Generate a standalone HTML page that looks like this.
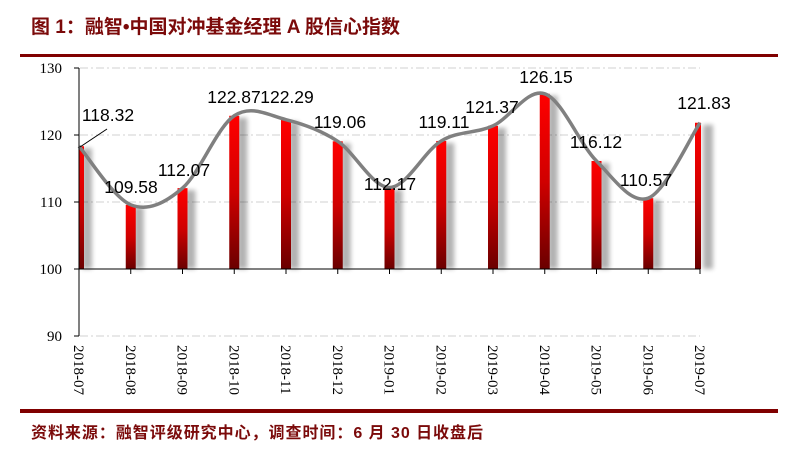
<!DOCTYPE html>
<html><head><meta charset="utf-8"><style>
body{margin:0;background:#fff;width:799px;height:459px;overflow:hidden}
svg{display:block}
</style></head><body>
<svg id="s" width="799" height="459" xmlns="http://www.w3.org/2000/svg">
<defs>
<linearGradient id="g" x1="0" y1="0" x2="0" y2="1"><stop offset="0" stop-color="#ff0000"/><stop offset="0.5" stop-color="#d00000"/><stop offset="1" stop-color="#6a0000"/></linearGradient>
<filter id="sh" x="-50%" y="-10%" width="250%" height="120%"><feGaussianBlur stdDeviation="2.5"/></filter>
</defs>
<text x="31" y="33" font-family="Liberation Sans, Noto Sans CJK SC, sans-serif" font-size="19" font-weight="bold" fill="#7b0a0a" textLength="369">图 1：融智•中国对冲基金经理 A 股信心指数</text>
<rect x="20" y="54" width="758" height="3" fill="#800000"/>
<g id="grid" stroke="#d0d0d0" stroke-dasharray="8,3,2,3" stroke-width="1"></g>
<g id="bars"></g>
<path id="curve" fill="none" stroke="#808080" stroke-width="3.5"/>
<line x1="79" y1="68" x2="79" y2="336" stroke="#000"/>
<line x1="79" y1="269" x2="700" y2="269" stroke="#000"/>
<g id="ticks" stroke="#000"></g>
<g id="yl" font-family="Liberation Serif, serif" font-size="15" text-anchor="end"></g>
<g id="xl" font-family="Liberation Serif, serif" font-size="15"></g>
<g id="dl" font-family="Liberation Sans, sans-serif" font-size="17.5" text-anchor="middle"></g>
<line x1="80" y1="147" x2="107" y2="129" stroke="#000"/>
<rect x="20" y="409" width="758" height="4" fill="#800000"/>
<text x="31" y="438" font-family="Liberation Sans, Noto Sans CJK SC, sans-serif" font-size="16" font-weight="bold" fill="#7b0a0a" textLength="452">资料来源：融智评级研究中心，调查时间：6 月 30 日收盘后</text>
</svg>
<script>
var NS="http://www.w3.org/2000/svg";
function el(p,t,a,txt){var e=document.createElementNS(NS,t);for(var k in a)e.setAttribute(k,a[k]);if(txt)e.textContent=txt;document.getElementById(p).appendChild(e);return e;}
var v=[118.32,109.58,112.07,122.87,122.29,119.06,112.17,119.11,121.37,126.15,116.12,110.57,121.83];
var lab=["2018-07","2018-08","2018-09","2018-10","2018-11","2018-12","2019-01","2019-02","2019-03","2019-04","2019-05","2019-06","2019-07"];
var lp=[[108,115],[131,187],[184,170],[234,97],[287,97],[340,122],[390,184],[444,122],[492,107],[546,77],[596,142],[646,180],[704,103]];
function Y(x){return 269-(x-100)*6.7;}
function X(i){return 79+i*51.75;}
[130,120,110,90].forEach(function(t){el("grid","line",{x1:80,x2:700,y1:Y(t),y2:Y(t)});});
[130,120,110,100,90].forEach(function(t){el("yl","text",{x:62,y:Y(t)+5},String(t));el("ticks","line",{x1:74,x2:79,y1:Y(t),y2:Y(t)});});
var pts=[];
v.forEach(function(d,i){var x=X(i),y=Y(d);pts.push([x,y]);
 el("bars","rect",{x:x+3,y:y+2,width:10,height:269-y-2,fill:"#000",opacity:0.3,filter:"url(#sh)"});
 el("bars","rect",{x:x-(i==0?0:5),y:y,width:i==0?5:(i==12?6:10),height:269-y,fill:"url(#g)"});
 el("ticks","line",{x1:x,x2:x,y1:269,y2:274});
 el("xl","text",{transform:"translate("+(x-5)+",345) rotate(90)"},lab[i]);
 el("dl","text",{x:lp[i][0],y:lp[i][1]+6},d.toFixed(2));
});
var d="M"+pts[0][0]+","+pts[0][1];
for(var i=0;i<pts.length-1;i++){var p0=pts[i-1]||pts[i],p1=pts[i],p2=pts[i+1],p3=pts[i+2]||p2;
 var c1=[p1[0]+(p2[0]-p0[0])/6,p1[1]+(p2[1]-p0[1])/6],c2=[p2[0]-(p3[0]-p1[0])/6,p2[1]-(p3[1]-p1[1])/6];
 d+=" C"+c1+" "+c2+" "+p2;}
document.getElementById("curve").setAttribute("d",d);
</script>
</body></html>
